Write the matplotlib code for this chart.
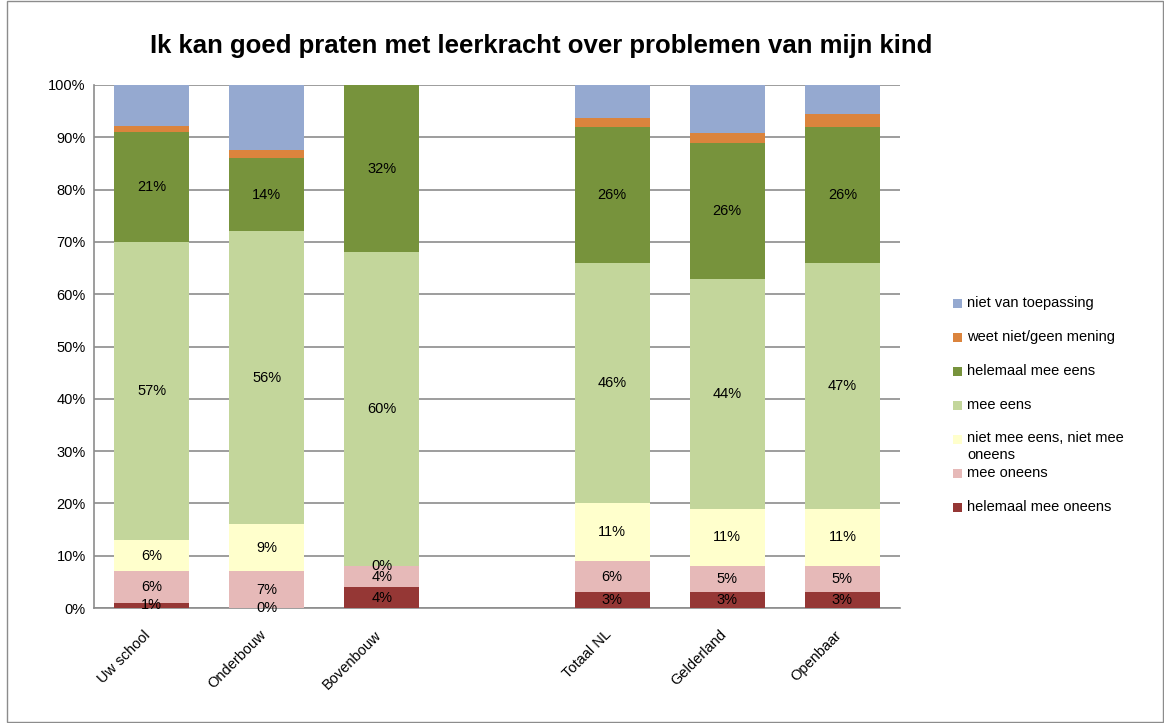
import numpy as np
import matplotlib.pyplot as plt
from matplotlib.patches import Rectangle
from matplotlib.transforms import ScaledTranslation

plt.rcParams['font.family'] = ['Liberation Sans', 'DejaVu Sans']

# categorieën (lege plek tussen Bovenbouw en Totaal NL)
groepen = ['Uw school', 'Onderbouw', 'Bovenbouw', '', 'Totaal NL', 'Gelderland', 'Openbaar']

# percentages per antwoordcategorie, van onder naar boven
hel_oneens = [1, 0, 4, np.nan, 3, 3, 3]
oneens = [6, 7, 4, np.nan, 6, 5, 5]
neutraal = [6, 9, 0, np.nan, 11, 11, 11]
eens = [57, 56, 60, np.nan, 46, 44, 47]
hel_eens = [21, 14, 32, np.nan, 26, 26, 26]
weet_niet = [1.2, 1.5, 0, np.nan, 1.7, 1.9, 2.5]
nvt = [7.8, 12.5, 0, np.nan, 6.3, 9.1, 5.5]

reeksen = [
    ('helemaal mee oneens', hel_oneens, '#953735', True),
    ('mee oneens', oneens, '#E6B9B8', True),
    ('niet mee eens, niet mee\noneens', neutraal, '#FFFFCC', True),
    ('mee eens', eens, '#C3D69B', True),
    ('helemaal mee eens', hel_eens, '#77933C', True),
    ('weet niet/geen mening', weet_niet, '#DB843D', False),
    ('niet van toepassing', nvt, '#95A9D0', False),
]

fig = plt.figure(figsize=(11.64, 7.23), dpi=100)
W, H = 1164, 723
ax = fig.add_axes([94 / W, 1 - 608 / H, (900 - 94) / W, (608 - 85) / H])

x = np.arange(len(groepen))
onder = np.zeros(len(groepen))
for naam, vals, kleur, label in reeksen:
    v = np.array(vals, dtype=float)
    ax.bar(x, np.nan_to_num(v), bottom=onder, width=0.65, color=kleur, zorder=3)
    if label:
        for xi, (b, h) in enumerate(zip(onder, v)):
            if np.isnan(h):
                continue
            ax.text(xi, b + h / 2, f'{h:.0f}%', ha='center', va='center',
                    fontsize=10.5, color='black', zorder=4)
    onder += np.nan_to_num(v)

ax.set_xlim(-0.5, len(groepen) - 0.5)
ax.set_ylim(0, 100)
ax.set_yticks(range(0, 101, 10))
ax.set_yticklabels([f'{t}%' for t in range(0, 101, 10)], fontsize=10.5)
ax.yaxis.grid(True, color='#8c8c8c', linewidth=1.2, zorder=0)
ax.tick_params(axis='y', length=0, pad=6)
ax.tick_params(axis='x', length=0, pad=2)

ticks = [i for i, g in enumerate(groepen) if g]
ax.set_xticks(ticks)
ax.set_xticklabels([groepen[i] for i in ticks], rotation=45, ha='right',
                   rotation_mode='anchor', fontsize=10.5)
verschuif = ScaledTranslation(-0.08, -0.17, fig.dpi_scale_trans)
for lbl in ax.get_xticklabels():
    lbl.set_transform(lbl.get_transform() + verschuif)

for s in ['top', 'right']:
    ax.spines[s].set_visible(False)
ax.spines['left'].set_color('#8c8c8c')
ax.spines['bottom'].set_color('#8c8c8c')
ax.spines['left'].set_linewidth(1.2)
ax.spines['bottom'].set_linewidth(1.2)

fig.text(541 / W, 1 - 46 / H, 'Ik kan goed praten met leerkracht over problemen van mijn kind',
         ha='center', va='center', fontsize=18.5, fontweight='bold')

# legenda, van boven naar onder
leg_y = [303, 337, 371, 405, 439, 473, 507]
for (naam, vals, kleur, label), yy in zip(reversed(reeksen), leg_y):
    fig.patches.append(Rectangle((953 / W, 1 - (yy + 4.5) / H), 9 / W, 9 / H,
                                 transform=fig.transFigure, facecolor=kleur,
                                 edgecolor='none'))
    if '\n' in naam:
        fig.text(967 / W, 1 - (yy - 8) / H, naam, ha='left', va='top',
                 fontsize=10.5, linespacing=1.25)
    else:
        fig.text(967 / W, 1 - yy / H, naam, ha='left', va='center', fontsize=10.5)

# rand om de grafiek
fig.patches.append(Rectangle((7 / W, 1 / H), (W - 8) / W, (H - 2) / H,
                             transform=fig.transFigure, facecolor='none',
                             edgecolor='#8c8c8c', linewidth=1))

fig.savefig('out.png', dpi=100)
